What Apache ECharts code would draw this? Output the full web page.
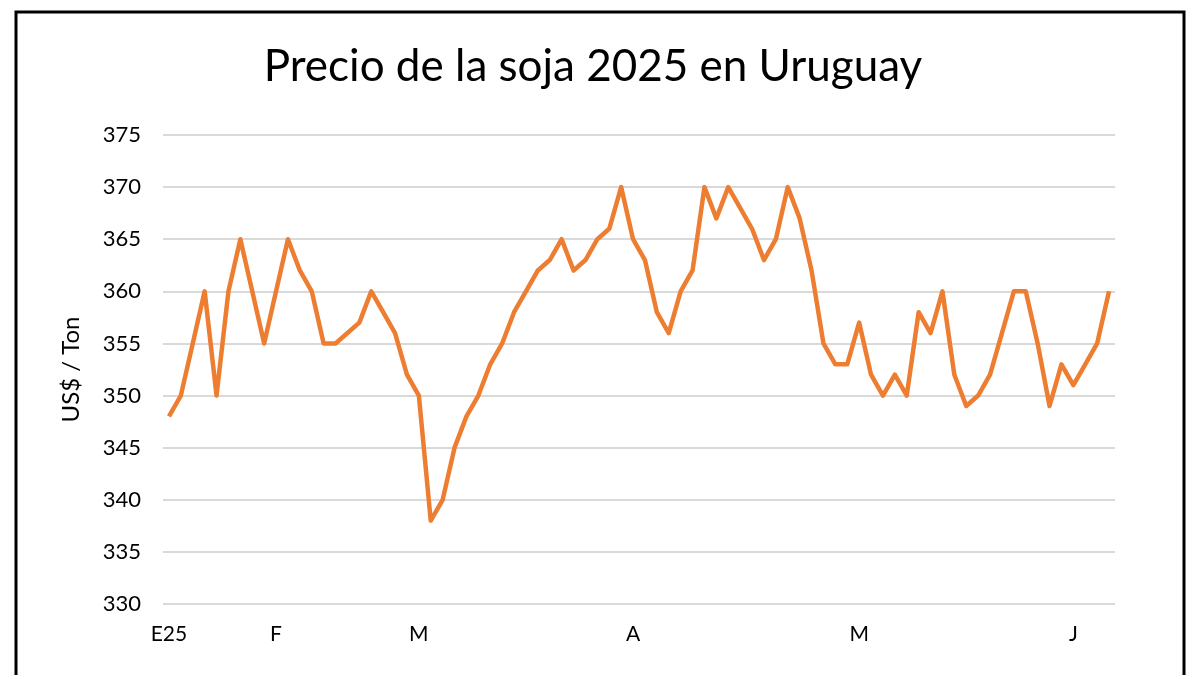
<!DOCTYPE html>
<html><head><meta charset="utf-8">
<script src="https://cdn.jsdelivr.net/npm/echarts@6/dist/echarts.min.js"></script>
<style>html,body{margin:0;padding:0;background:#fff}#c{width:1200px;height:675px}</style>
</head><body><div id="c"></div>
<script>
const prices = [348,350,355,360,350,360,365,360,355,360,365,362,360,355,355,356,357,360,358,356,352,350,338,340,345,348,350,353,355,358,360,362,363,365,362,363,365,366,370,365,363,358,356,360,362,370,367,370,368,366,363,365,370,367,362,355,353,353,357,352,350,352,350,358,356,360,352,349,350,352,356,360,360,355,349,353,351,353,355,360];
const categories = prices.map((_, i) => String(i + 1));
const tickLabels = {0:'E25', 9:'F', 21:'M', 39:'A', 58:'M', 76:'J'};
const yTicks = [330,335,340,345,350,355,360,365,370,375];

const chart = echarts.init(document.getElementById('c'));
chart.setOption({
  animation:false,
  backgroundColor:'#fff',
  graphic:[{type:'rect',shape:{x:16,y:12,width:1168,height:700},style:{fill:'none',stroke:'#000',lineWidth:3}}],
  title:{text:'Precio de la soja 2025 en Uruguay',left:588,top:40,textAlign:'center',
    textStyle:{fontFamily:'Lato',fontSize:44,fontWeight:'normal',color:'#000'}},
  grid:{left:163,right:85,top:135,bottom:71},
  xAxis:{type:'category',data:categories,boundaryGap:true,
    axisLine:{show:false},axisTick:{show:false},
    axisLabel:{interval:0,margin:20,fontFamily:'Lato',fontSize:21,color:'#000',
      formatter:(v,i)=>tickLabels[i]||''}},
  yAxis:{type:'value',min:yTicks[0],max:yTicks[yTicks.length-1],interval:5,
    name:'US$ / Ton',nameLocation:'middle',nameGap:80,
    nameTextStyle:{fontFamily:'Lato',fontSize:24,color:'#000'},
    axisLabel:{margin:22,fontFamily:'Lato',fontSize:22,color:'#000'},
    splitLine:{lineStyle:{color:'#d9d9d9',width:2}}},
  series:[{type:'line',data:prices,symbol:'none',
    lineStyle:{color:'#ed7d31',width:4.5,join:'round'}}]
});
</script></body></html>
